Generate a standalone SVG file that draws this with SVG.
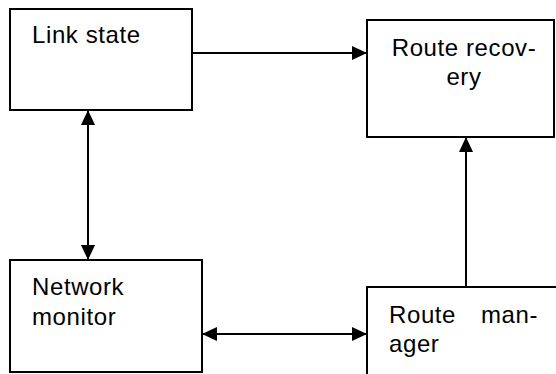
<svg xmlns="http://www.w3.org/2000/svg" width="556" height="374" viewBox="0 0 556 374">
<defs>
<style>
.box{fill:#fff;stroke:#000;stroke-width:2}
.lbl{font-family:"Liberation Sans",Arial,sans-serif;font-size:24px;letter-spacing:0.6px;fill:#000}
.ln{stroke:#000;stroke-width:2;fill:none}
</style>
<marker id="ah" viewBox="0 0 15 14" refX="15" refY="7" markerWidth="15" markerHeight="14" markerUnits="userSpaceOnUse" orient="auto-start-reverse">
<path d="M0,0 L15,7 L0,14 Z" fill="#000"/>
</marker>
</defs>
<rect width="556" height="374" fill="#fff"/>
<g id="link-state">
<rect class="box" x="10" y="9" width="182" height="101"/>
<text class="lbl" x="32" y="43">Link state</text>
</g>
<g id="route-recovery">
<rect class="box" x="367" y="20" width="187" height="117"/>
<text class="lbl" x="464" y="56" text-anchor="middle">Route recov-</text>
<text class="lbl" x="464" y="85" text-anchor="middle">ery</text>
</g>
<g id="network-monitor">
<rect class="box" x="10" y="260" width="192" height="112"/>
<text class="lbl" x="32" y="295">Network</text>
<text class="lbl" x="32" y="325">monitor</text>
</g>
<g id="route-manager">
<rect class="box" x="367" y="287" width="192" height="100"/>
<text class="lbl" x="389" y="323">Route</text>
<text class="lbl" x="538" y="323" text-anchor="end">man-</text>
<text class="lbl" x="389" y="352">ager</text>
</g>
<g id="connectors">
<line class="ln" x1="192" y1="53" x2="367" y2="53" marker-end="url(#ah)"/>
<line class="ln" x1="88" y1="110" x2="88" y2="260" marker-start="url(#ah)" marker-end="url(#ah)"/>
<line class="ln" x1="202" y1="334" x2="367" y2="334" marker-start="url(#ah)" marker-end="url(#ah)"/>
<line class="ln" x1="466" y1="287" x2="466" y2="137" marker-end="url(#ah)"/>
</g>
</svg>
